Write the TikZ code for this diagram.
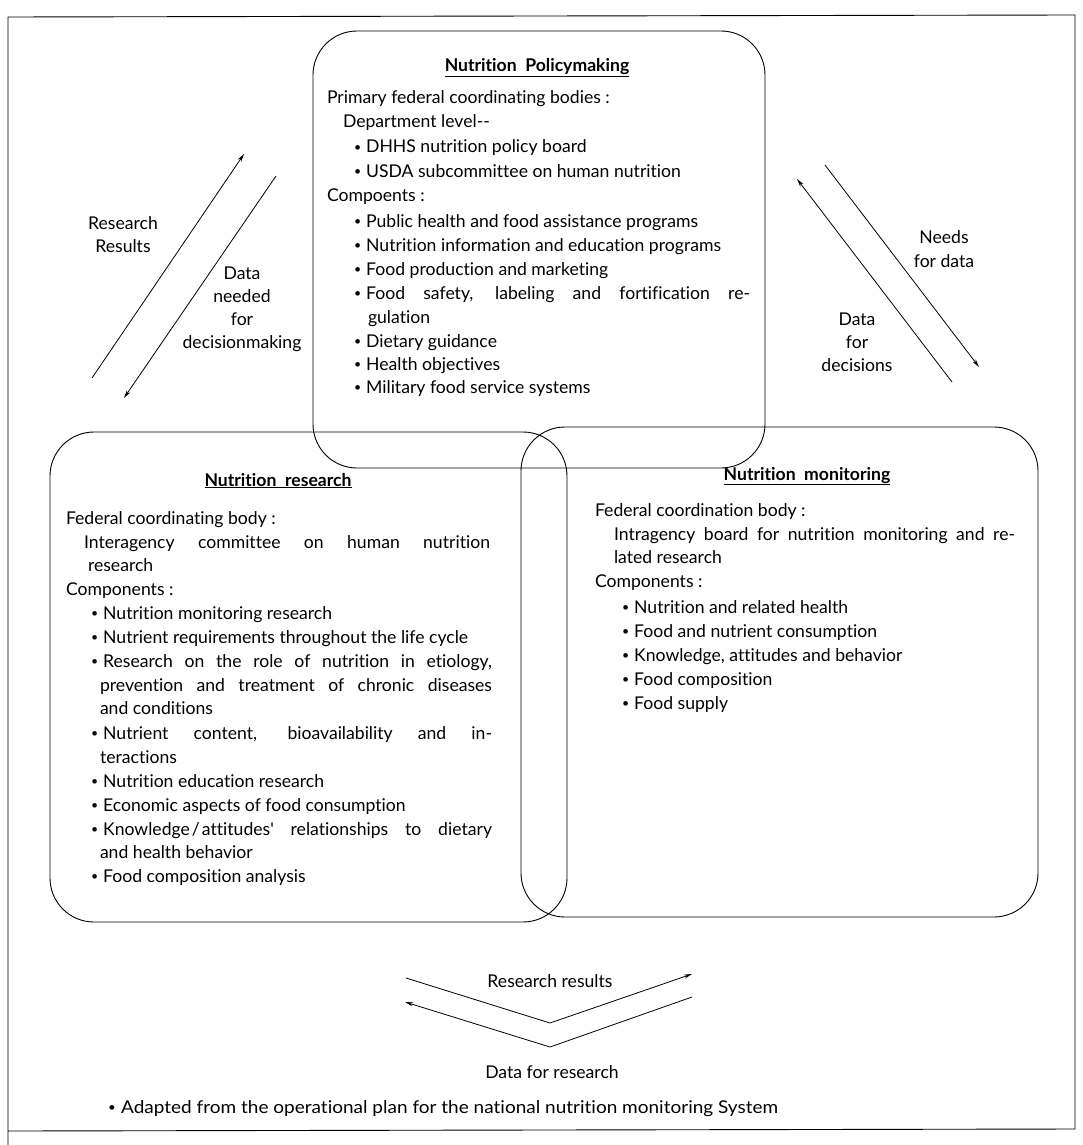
\documentclass[tikz,border=0pt]{standalone}
\usepackage{fontspec}
\setmainfont{Lato}[Ligatures={TeXOff,NoCommon}]
\usetikzlibrary{arrows.meta}
\newcommand{\bul}{\raisebox{1.5pt}{\scalebox{0.7}{•}}\kern5pt}
\begin{document}
\begin{tikzpicture}[x=1pt,y=-1pt,
  every node/.style={inner sep=0pt,outer sep=0pt,font=\fontsize{17.6}{20}\selectfont},
  tl/.style={anchor=base west},
  tc/.style={anchor=base},
  boxline/.style={line width=0.9pt,rounded corners=44pt},
  frameline/.style={line width=0.9pt},
  flow/.style={line width=0.8pt,-{Stealth[length=8pt,width=4pt]}}]
\useasboundingbox (0,0) rectangle (1082,1145);
% outer frame
\coordinate (f1) at (8,17);
\coordinate (f2) at (1075,15);
\coordinate (f3) at (1075,1129);
\coordinate (f4) at (8,1131);
\coordinate (f5) at (8,1145);
\draw[frameline] (f5) -- (f1) -- (f2) -- (f3) -- (f4);
% boxes
\draw[boxline] (313,31) rectangle (765,468);
\draw[boxline] (50,432) rectangle (567,922);
\draw[boxline] (521,427) rectangle (1038,917);

% Policymaking text
\node[tc] (pt) at (537,72) {\underline{\textbf{Nutrition\ \ Policymaking}}};
\node[tl] (p1) at (327,104) {Primary federal coordinating bodies :};
\node[tl] (p2) at (343,128) {Department level--};
\node[tl] (p3) at (354,153) {\bul DHHS nutrition policy board};
\node[tl] (p4) at (354,177) {\bul USDA subcommittee on human nutrition};
\node[tl] (p5) at (327,201) {Compoents :};
\node[tl] (p6) at (354,227) {\bul Public health and food assistance programs};
\node[tl] (p7) at (354,251) {\bul Nutrition information and education programs};
\node[tl] (p8) at (354,275) {\bul Food production and marketing};
\node[tl] (p9) at (354,299) {\makebox[396pt][s]{\bul Food safety, labeling and fortification re-}};
\node[tl] (p10) at (368,323) {gulation};
\node[tl] (p11) at (354,347) {\bul Dietary guidance};
\node[tl] (p12) at (354,370) {\bul Health objectives};
\node[tl] (p13) at (354,393) {\bul Military food service systems};

% Research text
\node[tc] (rt) at (278,486) {\underline{\textbf{Nutrition\ \ research}}};
\node[tl] (r1) at (66,524) {Federal coordinating body :};
\node[tl] (r2) at (84,548) {\makebox[406pt][s]{Interagency committee on human nutrition}};
\node[tl] (r3) at (88,571) {research};
\node[tl] (r4) at (66,595) {Components :};
\node[tl] (r5) at (91,619) {\bul Nutrition monitoring research};
\node[tl] (r6) at (91,643) {\bul Nutrient requirements throughout the life cycle};
\node[tl] (r7) at (91,667) {\makebox[401pt][s]{\bul Research on the role of nutrition in etiology,}};
\node[tl] (r8) at (100,691) {\makebox[392pt][s]{prevention and treatment of chronic diseases}};
\node[tl] (r9) at (100,714) {and conditions};
\node[tl] (r10) at (91,739) {\makebox[401pt][s]{\bul Nutrient content, bioavailability and in-}};
\node[tl] (r11) at (100,763) {teractions};
\node[tl] (r12) at (91,787) {\bul Nutrition education research};
\node[tl] (r13) at (91,811) {\bul Economic aspects of food consumption};
\node[tl] (r14) at (91,835) {\makebox[401pt][s]{\bul Knowledge\kern2pt/\kern2pt attitudes' relationships to dietary}};
\node[tl] (r15) at (100,858) {and health behavior};
\node[tl] (r16) at (91,882) {\bul Food composition analysis};

% Monitoring text
\node[tc] (mt) at (807,480) {\underline{\textbf{Nutrition\ \ monitoring}}};
\node[tl] (m1) at (595,516) {Federal coordination body :};
\node[tl] (m2) at (614,540) {\makebox[401pt][s]{Intragency board for nutrition monitoring and re-}};
\node[tl] (m3) at (614,563) {lated research};
\node[tl] (m4) at (595,587) {Components :};
\node[tl] (m5) at (622,613) {\bul Nutrition and related health};
\node[tl] (m6) at (622,637) {\bul Food and nutrient consumption};
\node[tl] (m7) at (622,661) {\bul Knowledge, attitudes and behavior};
\node[tl] (m8) at (622,685) {\bul Food composition};
\node[tl] (m9) at (622,709) {\bul Food supply};

% left arrows
\coordinate (a1s) at (92,378);
\coordinate (a1e) at (244,154);
\coordinate (a2s) at (276,176);
\coordinate (a2e) at (124,398);
\draw[flow] (a1s) -- (a1e);
\draw[flow] (a2s) -- (a2e);
\node[tc] (la1) at (123,229) {Research};
\node[tc] (la2) at (123,252) {Results};
\node[tc] (lb1) at (242,279) {Data};
\node[tc] (lb2) at (242,302) {needed};
\node[tc] (lb3) at (242,325) {for};
\node[tc] (lb4) at (242,348) {decisionmaking};

% right arrows
\coordinate (b1s) at (952,382);
\coordinate (b1e) at (797,179);
\coordinate (b2s) at (825,165);
\coordinate (b2e) at (979,367);
\draw[flow] (b1s) -- (b1e);
\draw[flow] (b2s) -- (b2e);
\node[tc] (ra1) at (944,243) {Needs};
\node[tc] (ra2) at (944,267) {for\ data};
\node[tc] (rb1) at (857,325) {Data};
\node[tc] (rb2) at (857,348) {for};
\node[tc] (rb3) at (857,371) {decisions};

% bottom arrows
\coordinate (c1s) at (406,978);
\coordinate (c1m) at (550,1023);
\coordinate (c1e) at (692,974);
\coordinate (c2s) at (692,997);
\coordinate (c2m) at (550,1047);
\coordinate (c2e) at (405,1002);
\draw[flow] (c1s) -- (c1m) -- (c1e);
\draw[flow] (c2s) -- (c2m) -- (c2e);
\node[tc] (bt1) at (550,987) {Research\ results};
\node[tc] (bt2) at (552,1078) {Data\ for\ research};

% footnote
\node[tl] (fn) at (108,1113) {\resizebox{670pt}{\height}{\bul Adapted from the operational plan for the national nutrition monitoring System}};
\end{tikzpicture}
\end{document}
